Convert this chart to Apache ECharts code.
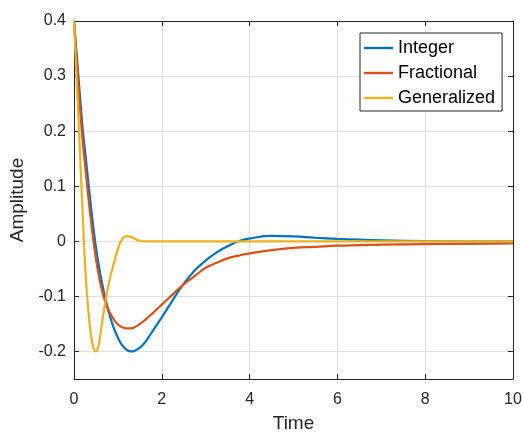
<!DOCTYPE html>
<html>
<head>
<meta charset="utf-8">
<script src="https://cdn.jsdelivr.net/npm/echarts@6/dist/echarts.min.js"></script>
<style>
html,body{margin:0;padding:0;background:#fff;}
#chart{width:523px;height:434px;}
</style>
</head>
<body>
<div id="chart"></div>
<script>
const times = [0, 0.05, 0.1, 0.15, 0.2, 0.25, 0.3, 0.35, 0.4, 0.45, 0.5, 0.55, 0.6, 0.65, 0.7, 0.8, 0.9, 1.0, 1.1, 1.2, 1.3, 1.4, 1.5, 1.6, 1.7, 1.8, 1.9, 2.0, 2.2, 2.4, 2.6, 2.8, 3.0, 3.25, 3.5, 3.75, 4.0, 4.5, 5.0, 5.5, 6.0, 6.5, 7.0, 8.0, 9.0, 10.0];
const integerVals = [0.4, 0.35, 0.3, 0.25, 0.202, 0.165, 0.127, 0.089, 0.053, 0.019, -0.011, -0.037, -0.06, -0.08, -0.099, -0.131, -0.156, -0.175, -0.189, -0.197, -0.2, -0.198, -0.193, -0.185, -0.174, -0.162, -0.15, -0.138, -0.113, -0.088, -0.067, -0.049, -0.035, -0.02, -0.009, 0.0, 0.005, 0.0098, 0.009, 0.0065, 0.0045, 0.003, 0.0018, 0.0005, 0.0, 0.0];
const fractionalVals = [0.4, 0.34, 0.28, 0.228, 0.18, 0.14, 0.1, 0.063, 0.028, -0.004, -0.032, -0.056, -0.076, -0.093, -0.107, -0.127, -0.141, -0.151, -0.156, -0.158, -0.158, -0.155, -0.15, -0.144, -0.137, -0.13, -0.1225, -0.115, -0.1, -0.085, -0.072, -0.06, -0.048, -0.039, -0.031, -0.026, -0.022, -0.016, -0.012, -0.01, -0.008, -0.007, -0.006, -0.005, -0.0045, -0.004];
const generalizedVals = [0.4, 0.31, 0.225, 0.135, 0.045, -0.04, -0.1, -0.145, -0.177, -0.195, -0.2, -0.192, -0.17, -0.142, -0.117, -0.074, -0.042, -0.014, 0.004, 0.0095, 0.008, 0.004, 0.001, 0.0, 0, 0, 0, 0, 0, 0, 0, 0, 0, 0, 0, 0, 0, 0, 0, 0, 0, 0, 0, 0, 0, 0];
const seriesNames = ['Integer', 'Fractional', 'Generalized'];
const seriesColors = ['#0072BD', '#D95319', '#EDB120'];
const yTicks = [-0.2, -0.1, 0, 0.1, 0.2, 0.3, 0.4];

const FONT = 'Liberation Sans, Arial, Helvetica, sans-serif';
const AX = '#262626';

function pairs(vals) { return times.map((t, i) => [t, vals[i]]); }
function fmtY(v) { return Math.abs(v) < 1e-9 ? '0' : (Math.round(v * 10) / 10).toString(); }

const chart = echarts.init(document.getElementById('chart'), null, {renderer: 'canvas'});
const baseX = {
  type: 'value', min: 0, max: 10, interval: 2,
  axisLine: {show: true, onZero: false, lineStyle: {color: AX, width: 1}},
  axisTick: {show: true, inside: true, length: 5, lineStyle: {color: AX}},
};
const baseY = {
  type: 'value', min: -0.25, max: 0.4,
  axisLine: {show: true, onZero: false, lineStyle: {color: AX, width: 1}},
  axisTick: {show: true, inside: true, length: 5, lineStyle: {color: AX}, customValues: yTicks},
};
chart.setOption({
  animation: false,
  backgroundColor: '#fff',
  grid: {left: 74, right: 10, top: 21, bottom: 55, containLabel: false, outerBoundsMode: 'none'},
  legend: {
    orient: 'vertical', left: 360, top: 33,
    data: seriesNames,
    icon: 'rect',
    backgroundColor: '#fff', borderColor: AX, borderWidth: 1, borderRadius: 0,
    padding: [6, 7, 4, 4], itemWidth: 29, itemHeight: 2.4, itemGap: 7,
    textStyle: {fontFamily: FONT, fontSize: 18, lineHeight: 18, color: '#000'}
  },
  xAxis: [
    Object.assign({}, baseX, {
      position: 'bottom',
      name: 'Time', nameLocation: 'middle', nameGap: 35,
      nameTextStyle: {fontFamily: FONT, fontSize: 19, color: AX},
      axisLabel: {show: true, fontFamily: FONT, fontSize: 16, color: AX, margin: 13},
      splitLine: {show: true, lineStyle: {color: '#e0e0e0', width: 1}}
    }),
    Object.assign({}, baseX, {
      position: 'top',
      axisLabel: {show: false}, splitLine: {show: false}
    })
  ],
  yAxis: [
    Object.assign({}, baseY, {
      position: 'left',
      name: 'Amplitude', nameLocation: 'middle', nameGap: 42, nameRotate: 90,
      nameTextStyle: {fontFamily: FONT, fontSize: 19, color: AX},
      axisLabel: {show: true, fontFamily: FONT, fontSize: 16, color: AX, margin: 8, customValues: yTicks, formatter: fmtY},
      splitLine: {show: true, lineStyle: {color: '#e0e0e0', width: 1}}
    }),
    Object.assign({}, baseY, {
      position: 'right',
      axisLabel: {show: false}, splitLine: {show: false}
    })
  ],
  series: [integerVals, fractionalVals, generalizedVals].map((vals, i) => ({
    name: seriesNames[i], type: 'line', xAxisIndex: 0, yAxisIndex: 0,
    data: pairs(vals), symbol: 'none', showSymbol: false,
    smooth: 0.5,
    color: seriesColors[i],
    lineStyle: {color: seriesColors[i], width: 2.2},
    z: 2 + i
  }))
});
</script>
</body>
</html>
